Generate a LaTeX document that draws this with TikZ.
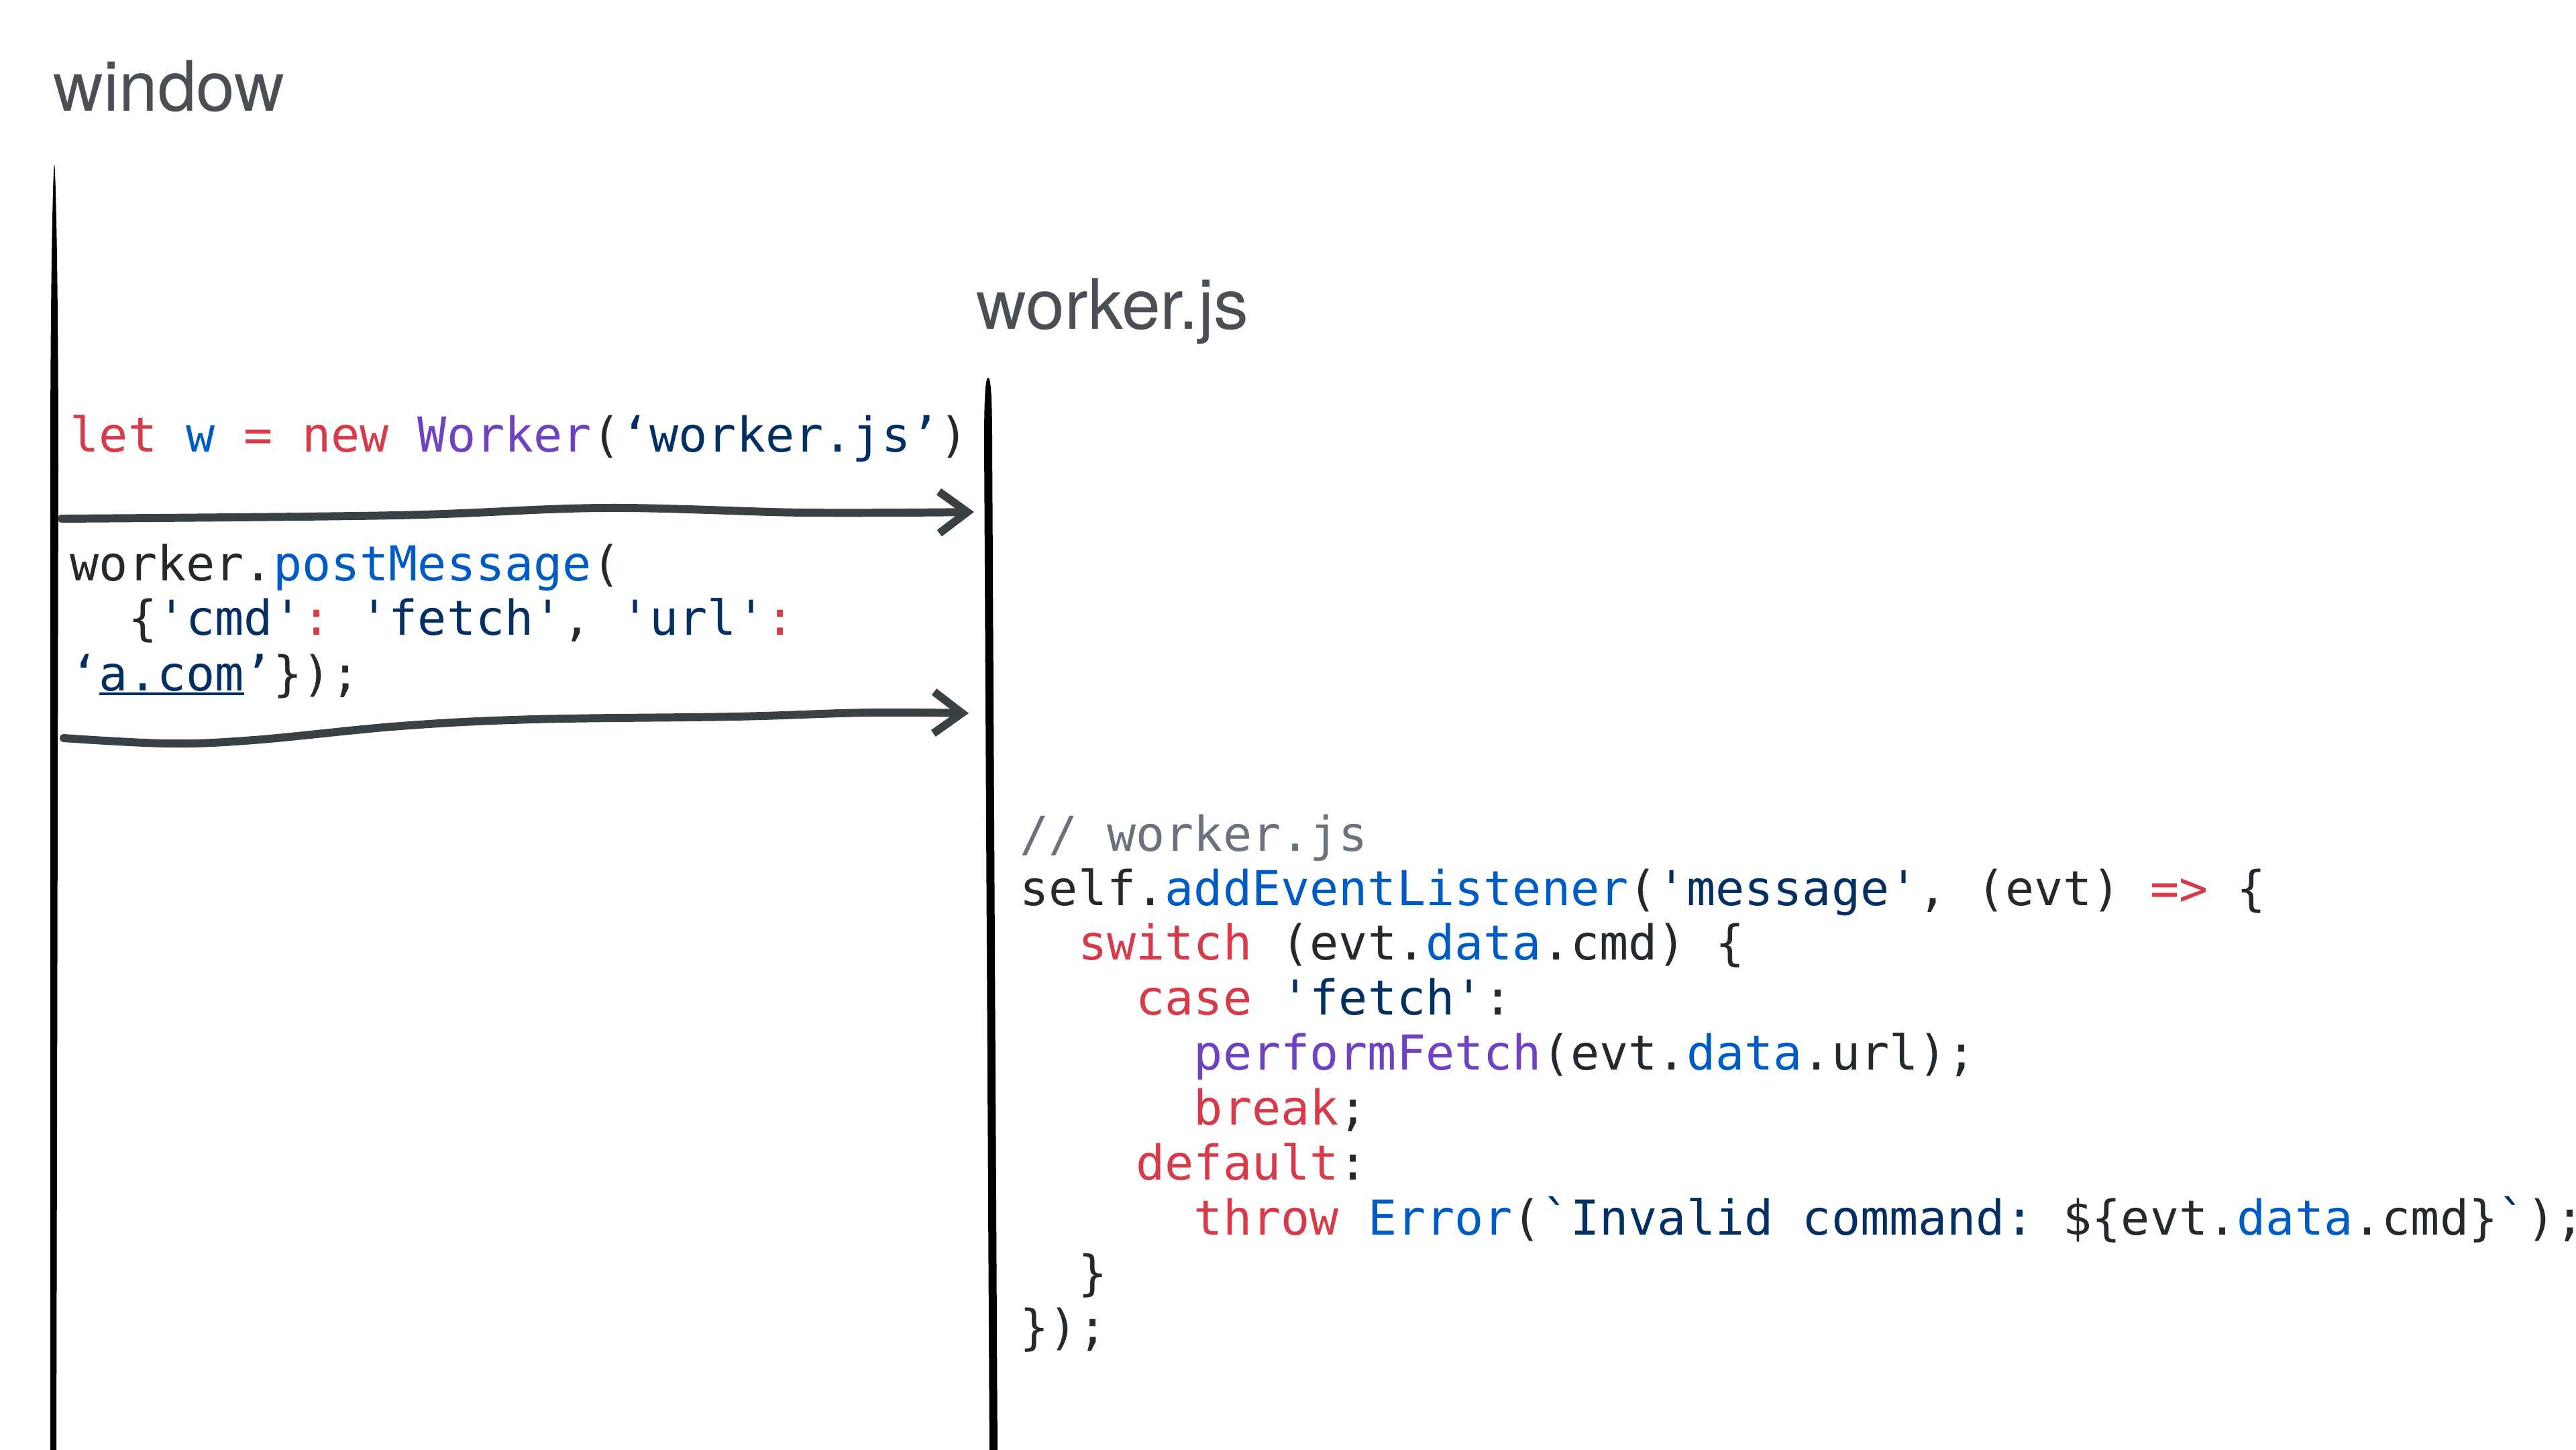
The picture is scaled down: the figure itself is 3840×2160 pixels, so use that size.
\documentclass[tikz,border=0pt]{standalone}
\usepackage{fontspec}
\usepackage{xcolor}
\usetikzlibrary{arrows.meta}

\setmainfont{TeX Gyre Heros}
\newfontfamily\codefont{DejaVu Sans Mono}

\definecolor{lblgray}{HTML}{4A4F55}
\definecolor{codetext}{HTML}{24292E}
\definecolor{jsred}{HTML}{D73A49}
\definecolor{jsblue}{HTML}{005CC5}
\definecolor{jspurple}{HTML}{6F42C1}
\definecolor{jsnavy}{HTML}{032F62}
\definecolor{jsgray}{HTML}{6A737D}
\definecolor{arrowgray}{HTML}{394144}

\newcommand\jkw[1]{\textcolor{jsred}{#1}}
\newcommand\jfn[1]{\textcolor{jsblue}{#1}}
\newcommand\jcls[1]{\textcolor{jspurple}{#1}}
\newcommand\jstr[1]{\textcolor{jsnavy}{#1}}
\newcommand\jcmt[1]{\textcolor{jsgray}{#1}}
\newcommand\sq{\char"27\relax}
\newcommand\bq{\char"60\relax}
\newcommand\uline[1]{\setbox0\hbox{#1}\rlap{\rule[-2pt]{\wd0}{1.1pt}}\box0}

\tikzset{
  lbl/.style={anchor=base west, inner sep=0pt, text=lblgray,
    font=\fontsize{29.5pt}{34pt}\selectfont},
  code/.style={anchor=base west, inner sep=0pt, text=codetext,
    font=\codefont\fontsize{20.4pt}{23.3pt}\selectfont\frenchspacing},
  msg/.style={draw=arrowgray, line width=3.4pt, line cap=round, line join=round,
    -{Straight Barb[length=0.42cm, width=0.62cm, line width=3.4pt]}},
}

\begin{document}
\begin{tikzpicture}[x=0.01cm, y=-0.01cm]
    \useasboundingbox (0,0) rectangle (3840,2160);

    % タイトル
    \node[lbl] (winlbl) at (79,165) {window};
    \node[lbl] (wrklbl) at (1455,490) {worker.js};

    % 縦線
    \fill (75,2170) -- (75,700) .. controls (75,420) and (79,250) .. (81,244)
        .. controls (83,250) and (87,420) .. (87,700) -- (84,2170) -- cycle;
    \fill (1475,2170) -- (1467,660) .. controls (1467,590) and (1469,563) .. (1473,563)
        .. controls (1477,563) and (1479,590) .. (1479,660) -- (1487,2170) -- cycle;

    % window側のコード
    \node[code] (l1) at (104,673) {\jkw{let} \jfn{w} \jkw{=} \jkw{new} \jcls{Worker}(\jstr{‘worker.js’})};
    \node[code] (l2) at (104,865) {worker.\jfn{postMessage}(};
    \node[code] (l3) at (104,946) {~~\{\jstr{\sq cmd\sq}\jkw{:} \jstr{\sq fetch\sq}, \jstr{\sq url\sq}\jkw{:}};
    \node[code] (l4) at (104,1029) {\jstr{‘\uline{a.com}’}\});};

    % メッセージの矢印
    \coordinate (m1s) at (92,773);
    \coordinate (m1e) at (1452,763);
    \coordinate (m2s) at (95,1100);
    \coordinate (m2e) at (1444,1063);
    \draw[msg] plot[smooth, tension=0.6] coordinates
        {(m1s) (590,768) (900,757) (1200,764) (m1e)};
    \draw[msg] plot[smooth, tension=0.6] coordinates
        {(m2s) (249,1108) (378,1103) (597,1082) (796,1072) (1095,1068) (1294,1062) (m2e)};

    % worker側のコード
    \node[code] (r1) at (1520,1268) {\jcmt{// worker.js}};
    \node[code] (r2) at (1520,1349) {self.\jfn{addEventListener}(\jstr{\sq message\sq}, (evt) \jkw{=>} \{};
    \node[code] (r3) at (1520,1430) {~~\jkw{switch} (evt.\jfn{data}.cmd) \{};
    \node[code] (r4) at (1520,1512) {~~~~\jkw{case} \jstr{\sq fetch\sq}:};
    \node[code] (r5) at (1520,1594) {~~~~~~\jcls{performFetch}(evt.\jfn{data}.url);};
    \node[code] (r6) at (1520,1676) {~~~~~~\jkw{break};};
    \node[code] (r7) at (1520,1758) {~~~~\jkw{default}:};
    \node[code] (r8) at (1520,1840) {~~~~~~\jkw{throw} \jfn{Error}(\jstr{\bq Invalid command: }\$\{evt.\jfn{data}.cmd\}\jstr{\bq});};
    \node[code] (r9) at (1520,1922) {~~\}};
    \node[code] (r10) at (1520,2003) {\});};

\end{tikzpicture}
\end{document}
